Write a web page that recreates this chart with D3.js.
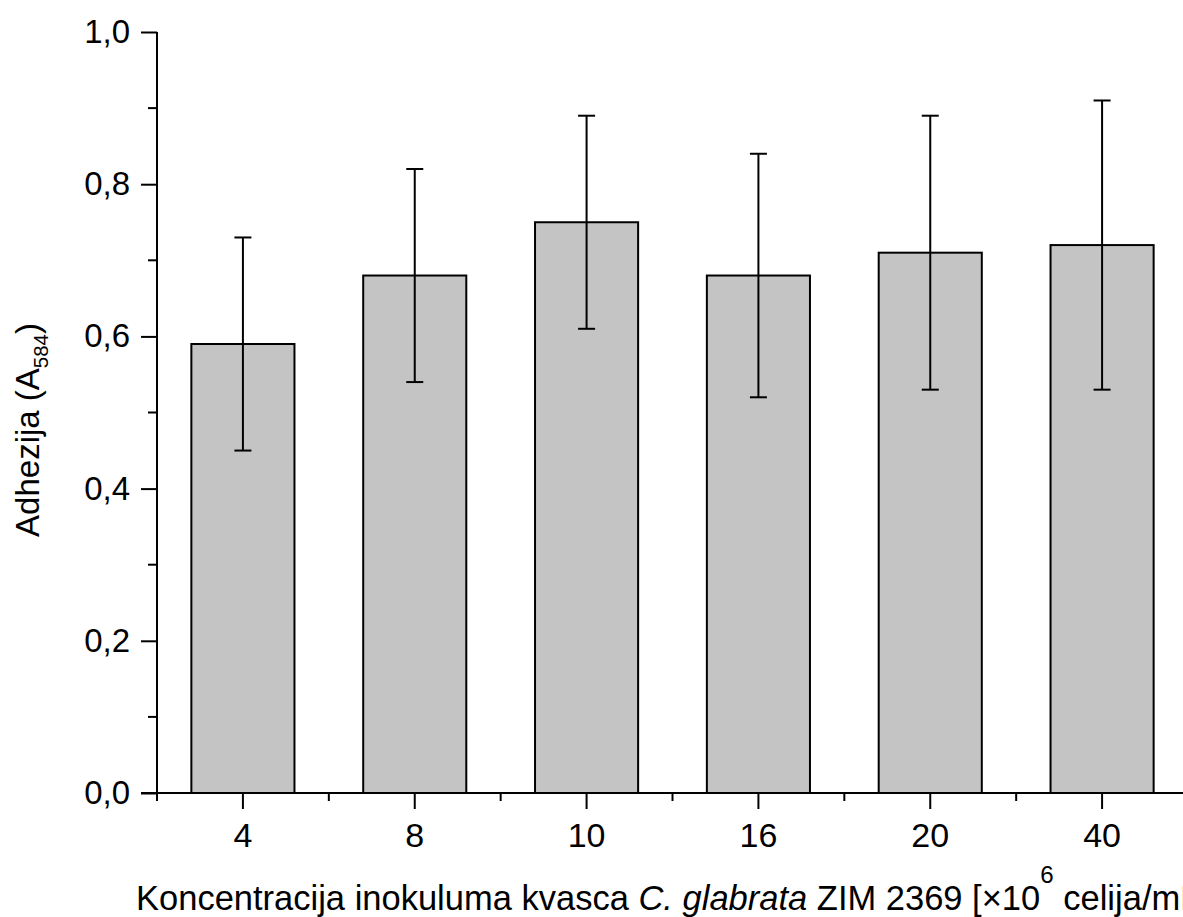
<!DOCTYPE html>
<html>
<head>
<meta charset="utf-8">
<script src="https://cdn.jsdelivr.net/npm/d3@7"></script>
<style>
  html, body { margin: 0; padding: 0; background: #ffffff; overflow: hidden; }
  svg { display: block; }
  text { font-family: "Liberation Sans", Arial, sans-serif; fill: #000; }
</style>
</head>
<body>
<svg id="chart" width="1183" height="917"></svg>
<script>
const categories = ["4", "8", "10", "16", "20", "40"];
const values = [0.59, 0.68, 0.75, 0.68, 0.71, 0.72];
const errors = [0.14, 0.14, 0.14, 0.16, 0.18, 0.19];
const yMajorTicks = [0, 0.2, 0.4, 0.6, 0.8, 1.0];
const yMinorTicks = [0.1, 0.3, 0.5, 0.7, 0.9];

(function () {
const svg = d3.select("#chart");
const mLeft = 157, mRight = 1188, mTop = 32, mBottom = 793;
const yTickFont = 33, xTickFont = 34, titleFont = 34.5, yTitleFont = 33;

const x = d3.scaleBand().domain(categories).range([mLeft, mRight]).paddingInner(0.4).paddingOuter(0.2);
const y = d3.scaleLinear().domain([0, 1]).range([mBottom, mTop]);
const fmt = d => d3.format(".1f")(d).replace(".", ",");

// bars
svg.append("g").selectAll("rect").data(categories).join("rect")
  .attr("x", d => x(d))
  .attr("y", (d, i) => y(values[i]))
  .attr("width", x.bandwidth())
  .attr("height", (d, i) => y(0) - y(values[i]))
  .attr("fill", "#c4c4c4")
  .attr("stroke", "#000")
  .attr("stroke-width", 2);

// error bars
const eg = svg.append("g").attr("stroke", "#000").attr("stroke-width", 2);
const capW = 8.5;
categories.forEach((c, i) => {
  const cx = x(c) + x.bandwidth() / 2;
  const hi = y(values[i] + errors[i]), lo = y(values[i] - errors[i]);
  eg.append("line").attr("x1", cx).attr("x2", cx).attr("y1", hi).attr("y2", lo);
  eg.append("line").attr("x1", cx - capW).attr("x2", cx + capW).attr("y1", hi).attr("y2", hi);
  eg.append("line").attr("x1", cx - capW).attr("x2", cx + capW).attr("y1", lo).attr("y2", lo);
});

// Y axis
const yAxis = svg.append("g").attr("transform", `translate(${mLeft},0)`)
  .call(d3.axisLeft(y).tickValues(yMajorTicks).tickFormat(fmt).tickSize(16).tickPadding(11));
yAxis.select(".domain").remove();
yAxis.selectAll(".tick line").attr("stroke", "#000").attr("stroke-width", 2);
yAxis.selectAll(".tick text").attr("font-size", yTickFont).attr("font-family", "Liberation Sans, Arial, sans-serif");
svg.append("g").selectAll("line").data(yMinorTicks).join("line")
  .attr("x1", mLeft - 9).attr("x2", mLeft).attr("y1", d => y(d)).attr("y2", d => y(d))
  .attr("stroke", "#000").attr("stroke-width", 2);
svg.append("line").attr("x1", mLeft).attr("x2", mLeft).attr("y1", y(1)).attr("y2", mBottom + 8)
  .attr("stroke", "#000").attr("stroke-width", 2);

// X axis
const xAxis = svg.append("g").attr("transform", `translate(0,${mBottom})`)
  .call(d3.axisBottom(x).tickSize(16).tickPadding(14));
xAxis.select(".domain").remove();
xAxis.selectAll(".tick line").attr("stroke", "#000").attr("stroke-width", 2);
xAxis.selectAll(".tick text").attr("font-size", xTickFont).attr("font-family", "Liberation Sans, Arial, sans-serif");
const minorX = d3.range(1, categories.length + 1).map(k => mLeft + k * x.step());
svg.append("g").selectAll("line").data(minorX).join("line")
  .attr("x1", d => d).attr("x2", d => d).attr("y1", mBottom).attr("y2", mBottom + 8)
  .attr("stroke", "#000").attr("stroke-width", 2);
svg.append("line").attr("x1", mLeft - 16).attr("x2", mRight).attr("y1", mBottom).attr("y2", mBottom)
  .attr("stroke", "#000").attr("stroke-width", 2);

// Y axis title
const yt = svg.append("text")
  .attr("transform", `translate(39,430) rotate(-90)`)
  .attr("text-anchor", "middle")
  .attr("font-size", yTitleFont);
yt.append("tspan").text("Adhezija (A");
yt.append("tspan").attr("font-size", yTitleFont * 0.62).attr("dy", 9).text("584");
yt.append("tspan").attr("dy", -9).text(")");

// X axis title
const xt = svg.append("text").attr("x", (mLeft + mRight) / 2).attr("y", 910)
  .attr("text-anchor", "middle").attr("font-size", titleFont);
xt.append("tspan").text("Koncentracija inokuluma kvasca ");
xt.append("tspan").attr("font-style", "italic").text("C. glabrata");
xt.append("tspan").text(" ZIM 2369 [×10");
xt.append("tspan").attr("font-size", titleFont * 0.7).attr("dy", -27).text("6");
xt.append("tspan").attr("dy", 27).text(" celija/mL]");
})();
</script>
</body>
</html>
